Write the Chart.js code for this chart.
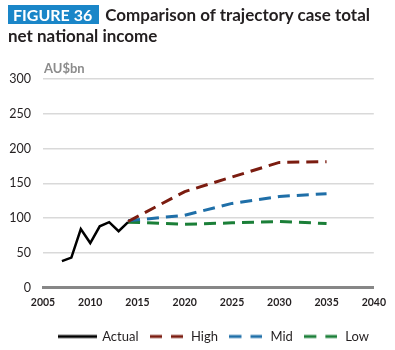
<!DOCTYPE html>
<html>
<head>
<meta charset="utf-8">
<script src="https://cdn.jsdelivr.net/npm/chart.js@4.4.1/dist/chart.umd.min.js"></script>
<style>
  html, body { margin: 0; padding: 0; background: #fff; }
  #wrap { position: relative; width: 395px; height: 350px; overflow: hidden; }
  #chart { position: absolute; left: 0; top: 0; }
  .title { position: absolute; left: 8px; top: 4px; font-family: Lato, "Open Sans", sans-serif;
           font-weight: bold; font-size: 17px; line-height: 21px; color: #231f20; width: 385px; }
  .fig { background: #1a86c8; color: #fff; padding: 0 7px 0 5px; margin-right: 6px; font-size: 16px; }
  .unit { position: absolute; left: 44px; top: 60px; font-family: Lato, sans-serif;
          font-weight: bold; font-size: 13px; color: #8c8c8c; }
</style>
</head>
<body>
<div id="wrap">
  <canvas id="chart" width="395" height="350"></canvas>
  <div class="title"><span class="fig">FIGURE 36</span>Comparison of trajectory case total net national income</div>
  <div class="unit">AU$bn</div>
</div>
<script>
(function () {
    "use strict";

    // Data
    const actualYears = [2007, 2008, 2009, 2010, 2011, 2012, 2013, 2014];
    const actualValues = [38, 43, 84, 64, 88, 94, 81, 94];
    const caseYears = [2014, 2020, 2025, 2030, 2035];
    const highValues = [95, 138, 159, 180, 181];
    const midValues = [96, 104, 121, 131, 135];
    const lowValues = [94, 91, 93, 95, 92];
    const yTicks = [0, 50, 100, 150, 200, 250, 300];
    const xTicks = [2005, 2010, 2015, 2020, 2025, 2030, 2035, 2040];

    const pts = (xs, ys) => xs.map((x, i) => ({ x: x, y: ys[i] }));

    const dash = [12, 7];
    const colors = { actual: "#000000", high: "#7b1c10", mid: "#1f6fa8", low: "#1b7f38" };

    // legend samples
    function sample(color, dashed, w) {
        const c = document.createElement("canvas");
        c.width = w;
        c.height = 6;
        const g = c.getContext("2d");
        g.strokeStyle = color;
        g.lineWidth = 3;
        if (dashed) g.setLineDash([12, 9]);
        g.beginPath();
        g.moveTo(0, 3);
        g.lineTo(w, 3);
        g.stroke();
        return c;
    }

    const ctx = document.getElementById("chart").getContext("2d");
    new Chart(ctx, {
        type: "line",
        data: {
            datasets: [
                {
                    label: "Actual",
                    data: pts(actualYears, actualValues),
                    borderColor: colors.actual,
                    borderWidth: 2.5,
                    pointStyle: sample(colors.actual, false, 39),
                    order: 0,
                },
                {
                    label: "High",
                    data: pts(caseYears, highValues),
                    borderColor: colors.high,
                    borderWidth: 3,
                    borderDash: dash,
                    pointStyle: sample(colors.high, true, 33),
                    order: 1,
                },
                {
                    label: "Mid",
                    data: pts(caseYears, midValues),
                    borderColor: colors.mid,
                    borderWidth: 3,
                    borderDash: dash,
                    pointStyle: sample(colors.mid, true, 33),
                    order: 2,
                },
                {
                    label: "Low",
                    data: pts(caseYears, lowValues),
                    borderColor: colors.low,
                    borderWidth: 3,
                    borderDash: dash,
                    pointStyle: sample(colors.low, true, 33),
                    order: 3,
                },
            ],
        },
        options: {
            responsive: false,
            animation: false,
            elements: {
                point: { radius: 0, hoverRadius: 0 },
                line: { tension: 0, borderCapStyle: "butt", fill: false },
            },
            layout: { padding: { left: 0, right: 16, top: 79, bottom: -3 } },
            plugins: {
                tooltip: { enabled: false },
                legend: {
                    position: "bottom",
                    align: "end",
                    labels: {
                        usePointStyle: true,
                        pointStyleWidth: 36,
                        padding: 10,
                        color: "#231f20",
                        font: { family: "Lato", size: 13 },
                    },
                },
            },
            scales: {
                x: {
                    type: "linear",
                    min: 2005,
                    max: 2040,
                    afterBuildTicks: (s) => { s.ticks = xTicks.map((v) => ({ value: v })); },
                    afterFit: (s) => { s.height = 32.5; },
                    ticks: {
                        padding: 9,
                        maxRotation: 0,
                        color: "#231f20",
                        font: { family: "Lato", size: 10.5, weight: "bold" },
                        callback: (v) => String(v),
                    },
                    grid: { display: false, drawTicks: false },
                    border: { display: true, color: "#878787", width: 3 },
                },
                y: {
                    min: 0,
                    max: 300,
                    afterBuildTicks: (s) => { s.ticks = yTicks.map((v) => ({ value: v })); },
                    afterFit: (s) => { s.width = 43; },
                    ticks: {
                        padding: 12,
                        color: "#231f20",
                        font: { family: "Lato", size: 12.5 },
                    },
                    grid: {
                        drawTicks: false,
                        color: "#d9d9d9",
                        lineWidth: (c) => (c.tick && c.tick.value === 0 ? 0 : 1.5),
                    },
                    border: { display: false },
                },
            },
        },
    });
})();
</script>
</body>
</html>
